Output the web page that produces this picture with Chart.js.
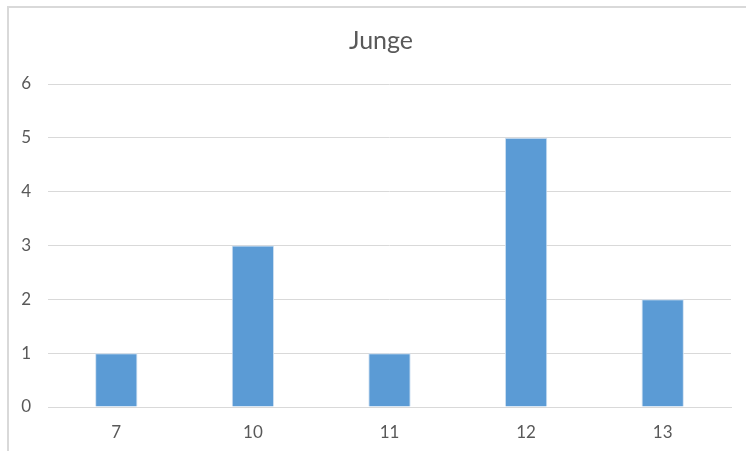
<!DOCTYPE html>
<html lang="de">
<head>
  <meta charset="UTF-8">
  <title>Junge</title>
  <script src="https://cdn.jsdelivr.net/npm/chart.js"></script>
  <style>
    html, body {
      margin: 0;
      padding: 0;
      background: #fff;
      overflow: hidden;
    }
    .frame {
      position: absolute;
      left: 7px;
      top: 6px;
      width: 744px;
      height: 500px;
      border: 2px solid #d9d9d9;
    }
    .wrap {
      position: absolute;
      left: 0;
      top: 0;
      width: 746px;
      height: 451px;
    }
  </style>
</head>
<body>
  <div class="frame"></div>
  <div class="wrap"><canvas id="chart" width="746" height="451"></canvas></div>

  <script>
    const ages = ["7", "10", "11", "12", "13"];
    const counts = [1, 3, 1, 5, 2];
    const yTicks = [0, 1, 2, 3, 4, 5, 6];
    const titleText = "Junge";

    const grey = "#595959";
    const font = "Lato, 'Open Sans', sans-serif";

    // title centred on the whole chart frame (which runs past the right edge)
    const frameTitle = {
      id: "frameTitle",
      afterDraw(chart) {
        const frame = document.querySelector(".frame");
        const ctx = chart.ctx;
        const cx = frame.offsetLeft + frame.offsetWidth / 2;
        ctx.save();
        ctx.fillStyle = grey;
        ctx.font = "25px " + font;
        ctx.textAlign = "center";
        ctx.textBaseline = "middle";
        ctx.fillText(titleText, cx, 41);
        ctx.restore();
      }
    };

    new Chart(document.getElementById("chart"), {
      type: "bar",
      data: {
        labels: ages,
        datasets: [{
          label: titleText,
          data: counts,
          backgroundColor: "#5b9bd5",
          borderColor: "#cfe0f1",
          borderWidth: 1,
          categoryPercentage: 1,
          barPercentage: 0.31
        }]
      },
      options: {
        responsive: false,
        animation: false,
        layout: { padding: { top: 84, left: 0, right: 15, bottom: 0 } },
        plugins: {
          legend: { display: false },
          tooltip: { enabled: false },
          title: { display: false }
        },
        scales: {
          x: {
            grid: { display: false, drawTicks: false },
            border: { display: true, color: "#d9d9d9", width: 1 },
            ticks: { color: grey, font: { family: font, size: 17 }, padding: 15 },
            afterFit: (axis) => { axis.height = 44; }
          },
          y: {
            min: 0,
            max: 6,
            afterBuildTicks: (axis) => { axis.ticks = yTicks.map(v => ({ value: v })); },
            grid: { color: "#d9d9d9", lineWidth: 1, drawTicks: false },
            border: { display: false },
            ticks: { color: grey, font: { family: font, size: 17 }, padding: 17 },
            afterFit: (axis) => { axis.width = 48; }
          }
        }
      },
      plugins: [frameTitle]
    });
  </script>
</body>
</html>
